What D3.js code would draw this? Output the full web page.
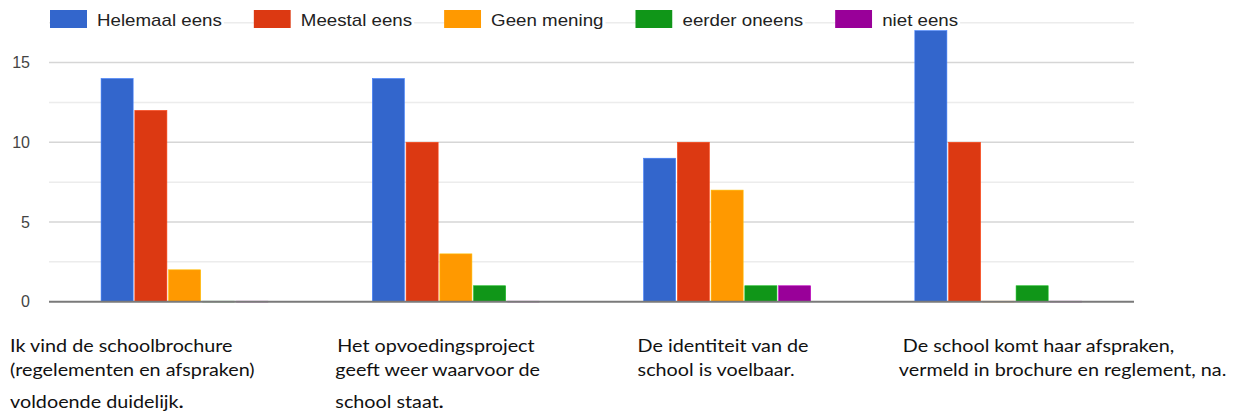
<html lang="nl">
<head>
    <meta charset="UTF-8">
    <title>Schoolbrochure enquete</title>
    <script src="https://cdn.jsdelivr.net/npm/d3@7"></script>
    <style>
        body { margin: 0; background: #fff; }
    </style>
</head>
<body>
<script>
    // data
    let categories = ["q1", "q2", "q3", "q4"]
    let questionLines = [
        ["Ik vind de schoolbrochure", "(regelementen en afspraken)", "voldoende duidelijk."],
        ["Het opvoedingsproject", "geeft weer waarvoor de", "school staat."],
        ["De identiteit van de", "school is voelbaar."],
        ["De school komt haar afspraken,", "vermeld in brochure en reglement, na."]
    ]
    let seriesNames = ["Helemaal eens", "Meestal eens", "Geen mening", "eerder oneens", "niet eens"]
    let seriesColors = ["#3366cc", "#dc3912", "#ff9900", "#109618", "#990099"]
    let helemaalEens = [14, 14, 9, 17]
    let meestalEens = [12, 10, 10, 10]
    let geenMening = [2, 3, 7, 0]
    let eerderOneens = [0, 1, 1, 1]
    let nietEens = [0, 0, 1, 0]
    let majorTicks = [0, 5, 10, 15]
    let minorTicks = [2.5, 7.5, 12.5, 17.5]
    let yMax = 17.5

    let seriesValues = [helemaalEens, meestalEens, geenMening, eerderOneens, nietEens]

    let width = 1244, height = 416
    let plotLeft = 49, plotRight = 1134, plotTop = 22.7, plotBottom = 301.7

    let svg = d3.select('body').append('svg')
        .attr('width', width)
        .attr('height', height)

    let x0 = d3.scaleBand()
        .domain(categories)
        .range([plotLeft, plotRight])
        .paddingInner(0.384)
        .paddingOuter(0.192)

    let x1 = d3.scaleBand()
        .domain(seriesNames)
        .range([0, x0.bandwidth()])
        .paddingInner(0.05)

    let y = d3.scaleLinear()
        .domain([0, yMax])
        .range([plotBottom, plotTop])

    // gridlines
    svg.selectAll('line.minor')
        .data(minorTicks)
        .enter()
        .append('line')
        .attr('class', 'minor')
        .attr('x1', plotLeft).attr('x2', plotRight)
        .attr('y1', d => y(d)).attr('y2', d => y(d))
        .attr('stroke', '#ececec')
        .attr('stroke-width', 1.5)

    svg.selectAll('line.major')
        .data(majorTicks.filter(d => d > 0))
        .enter()
        .append('line')
        .attr('class', 'major')
        .attr('x1', plotLeft).attr('x2', plotRight)
        .attr('y1', d => y(d)).attr('y2', d => y(d))
        .attr('stroke', '#d6d6d6')
        .attr('stroke-width', 1.5)

    // y axis labels
    let yAxis = d3.axisLeft(y).tickValues(majorTicks).tickSize(0).tickPadding(0)
    let yg = svg.append('g')
        .attr('transform', 'translate(30,0)')
        .call(yAxis)
    yg.select('.domain').remove()
    yg.selectAll('text')
        .attr('fill', '#444')
        .style('font-family', '"Liberation Sans", Arial, sans-serif')
        .style('font-size', '16px')

    // bars
    let groups = svg.selectAll('g.group')
        .data(categories)
        .enter()
        .append('g')
        .attr('class', 'group')
        .attr('transform', d => 'translate(' + x0(d) + ',0)')

    groups.selectAll('rect')
        .data((d, i) => seriesNames.map((s, j) => ({series: s, value: seriesValues[j][i], color: seriesColors[j]})))
        .enter()
        .append('rect')
        .attr('x', d => x1(d.series))
        .attr('y', d => y(d.value))
        .attr('width', x1.bandwidth())
        .attr('height', d => y(0) - y(d.value))
        .attr('fill', d => d.color)
        .attr('stroke', d => d3.color(d.color).brighter(0.6))
        .attr('stroke-width', 0.6)

    // baseline
    svg.append('line')
        .attr('x1', plotLeft).attr('x2', plotRight)
        .attr('y1', y(0)).attr('y2', y(0))
        .attr('stroke', '#7a7a7a')
        .attr('stroke-width', 2)

    // zero bars show as a faint tint on the baseline
    groups.selectAll('line.zero')
        .data((d, i) => seriesNames.map((s, j) => ({series: s, value: seriesValues[j][i], color: seriesColors[j]}))
            .filter(d => d.value === 0))
        .enter()
        .append('line')
        .attr('class', 'zero')
        .attr('x1', d => x1(d.series))
        .attr('x2', d => x1(d.series) + x1.bandwidth())
        .attr('y1', y(0)).attr('y2', y(0))
        .attr('stroke', d => d.color)
        .attr('stroke-opacity', 0.35)
        .attr('stroke-width', 2)

    // legend
    let legend = svg.append('g')
    let lx = 50
    seriesNames.forEach(function (name, i) {
        legend.append('rect')
            .attr('x', lx).attr('y', 10)
            .attr('width', 37).attr('height', 18)
            .attr('fill', seriesColors[i])
        let bg = legend.append('rect').attr('fill', '#fff')
        let t = legend.append('text')
            .attr('transform', 'translate(' + (lx + 47) + ',26) scale(1.17,1)')
            .attr('fill', '#222')
            .style('font-family', '"Liberation Sans", Arial, sans-serif')
            .style('font-size', '16px')
            .text(name)
        let w = t.node().getComputedTextLength() * 1.17
        bg.attr('x', lx + 37).attr('y', 10).attr('width', w + 12).attr('height', 18)
        lx += 37 + 10 + w + 32
    })

    // question labels under the groups (offsets relative to group start)
    let labelLayout = [
        {dx: -91, lineDx: [0, 0, 0], lineY: [352, 376, 408]},
        {dx: -35, lineDx: [0, -2, -2], lineY: [352, 376, 408]},
        {dx: -6, lineDx: [0, 0], lineY: [352, 376]},
        {dx: -12, lineDx: [0, -4], lineY: [352, 376]}
    ]
    let labelStretch = 1.13

    categories.forEach(function (c, i) {
        let lay = labelLayout[i]
        let lines = questionLines[i]
        let t = svg.append('text')
            .attr('transform', 'translate(' + (x0(c) + lay.dx) + ',0) scale(' + labelStretch + ',1)')
            .attr('fill', '#111')
            .style('font-family', 'Lato, "Open Sans", sans-serif')
            .style('font-size', '17.5px')
        lines.forEach(function (line, k) {
            let ts = t.append('tspan')
                .attr('x', lay.lineDx[k] / labelStretch)
                .attr('y', lay.lineY[k])
            if (k === 2 && line.endsWith('.')) {
                ts.text(line.slice(0, -1))
                ts.append('tspan').style('font-weight', 'bold').text('.')
            } else {
                ts.text(line)
            }
        })
    })
</script>
</body>
</html>
